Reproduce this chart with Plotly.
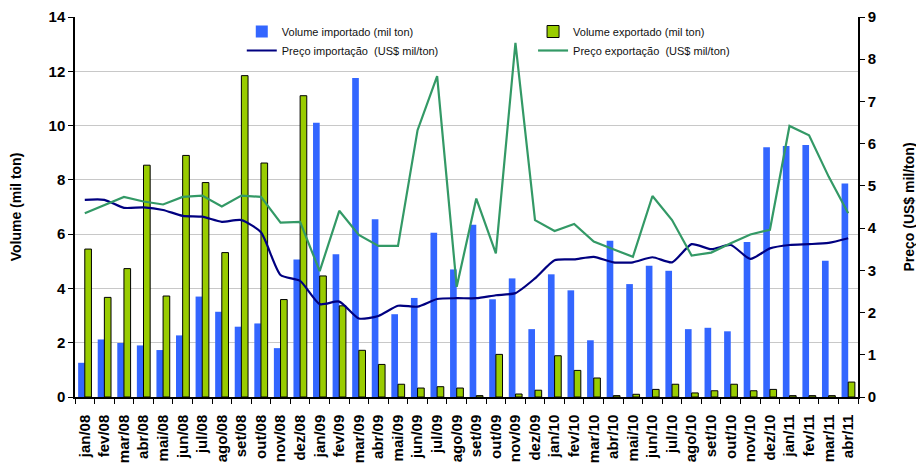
import plotly.graph_objects as go

months = ["jan/08","fev/08","mar/08","abr/08","mai/08","jun/08","jul/08","ago/08","set/08","out/08","nov/08","dez/08",
          "jan/09","fev/09","mar/09","abr/09","mai/09","jun/09","jul/09","ago/09","set/09","out/09","nov/09","dez/09",
          "jan/10","fev/10","mar/10","abr/10","mai/10","jun/10","jul/10","ago/10","set/10","out/10","nov/10","dez/10",
          "jan/11","fev/11","mar/11","abr/11"]

vol_importado = [1.26, 2.12, 1.99, 1.90, 1.73, 2.27, 3.70, 3.14, 2.59, 2.71, 1.80, 5.07,
                 10.10, 5.26, 11.75, 6.55, 3.05, 3.65, 6.05, 4.70, 6.35, 3.60, 4.37, 2.50,
                 4.52, 3.93, 2.09, 5.76, 4.16, 4.84, 4.65, 2.50, 2.55, 2.42, 5.71, 9.20,
                 9.25, 9.28, 5.02, 7.87]

vol_exportado = [5.45, 3.67, 4.73, 8.54, 3.72, 8.90, 7.90, 5.32, 11.84, 8.62, 3.59, 11.10,
                 4.46, 3.36, 1.72, 1.20, 0.47, 0.33, 0.38, 0.33, 0.05, 1.57, 0.11, 0.25,
                 1.52, 0.98, 0.70, 0.05, 0.10, 0.28, 0.47, 0.15, 0.23, 0.47, 0.23, 0.28,
                 0.05, 0.05, 0.05, 0.55]

preco_importacao = [4.67, 4.67, 4.48, 4.49, 4.43, 4.29, 4.27, 4.15, 4.19, 3.90, 2.89, 2.75,
                    2.20, 2.26, 1.86, 1.92, 2.16, 2.14, 2.32, 2.34, 2.34, 2.41, 2.46, 2.81,
                    3.24, 3.26, 3.32, 3.19, 3.19, 3.31, 3.19, 3.62, 3.50, 3.60, 3.27, 3.52,
                    3.60, 3.62, 3.65, 3.76]

preco_exportacao = [4.35, 4.55, 4.74, 4.63, 4.56, 4.74, 4.77, 4.51, 4.77, 4.74, 4.13, 4.15,
                    2.98, 4.41, 3.84, 3.58, 3.58, 6.32, 7.60, 2.61, 4.70, 3.40, 8.39, 4.19,
                    3.93, 4.10, 3.68, 3.50, 3.32, 4.76, 4.19, 3.35, 3.42, 3.64, 3.85, 3.96,
                    6.42, 6.20, 5.22, 4.35]

FONT = "Liberation Sans, Arial, sans-serif"

fig = go.Figure()
fig.add_trace(go.Bar(x=months, y=vol_importado, name="Volume importado (mil ton)",
                     marker=dict(color="#3366FF", line=dict(width=0)),
                     offsetgroup="a", legend="legend", yaxis="y"))
fig.add_trace(go.Scatter(x=months, y=preco_importacao, name="Preço importação  (US$ mil/ton)",
                         mode="lines", line=dict(color="#000080", width=2.2, shape="spline", smoothing=0.6),
                         legend="legend", yaxis="y2"))
fig.add_trace(go.Bar(x=months, y=vol_exportado, name="Volume exportado (mil ton)",
                     marker=dict(color="#99CC00", line=dict(color="#000000", width=1)),
                     offsetgroup="b", legend="legend2", yaxis="y"))
fig.add_trace(go.Scatter(x=months, y=preco_exportacao, name="Preço exportação  (US$ mil/ton)",
                         mode="lines", line=dict(color="#339966", width=2.2),
                         legend="legend2", yaxis="y2"))

fig.update_layout(
    width=916, height=457,
    margin=dict(l=67, r=66, t=9, b=68, autoexpand=False),
    paper_bgcolor="white", plot_bgcolor="white",
    font=dict(family=FONT, color="#000000"),
    barmode="group", bargap=0.32, bargroupgap=0.0,
    showlegend=True,
    legend=dict(x=0.213, y=1.0, xanchor="left", yanchor="top", orientation="v",
                font=dict(size=11, family=FONT, color="#111111"), bgcolor="rgba(0,0,0,0)",
                tracegroupgap=2, itemwidth=30),
    legend2=dict(x=0.585, y=1.0, xanchor="left", yanchor="top", orientation="v",
                 font=dict(size=11, family=FONT, color="#111111"), bgcolor="rgba(0,0,0,0)",
                 tracegroupgap=2, itemwidth=30),
    xaxis=dict(type="category", tickangle=-90, tickson="boundaries", ticks="outside",
               ticklen=5, tickcolor="#000", showline=True, linecolor="#000", linewidth=1.5,
               ticklabelstandoff=10,
               tickfont=dict(size=15, family=FONT, color="#000", weight="bold"),
               showgrid=False),
    yaxis=dict(range=[0, 14], dtick=2, ticks="outside", ticklen=5, tickcolor="#000",
               showline=True, linecolor="#000", linewidth=1.5,
               showgrid=True, gridcolor="#C8C8C8", gridwidth=1.2, zeroline=False,
               tickfont=dict(size=15, family=FONT, color="#000", weight="bold"),
               title=dict(text="Volume (mil ton)", standoff=25,
                          font=dict(size=14, family=FONT, color="#000", weight="bold"))),
    yaxis2=dict(range=[0, 9], dtick=1, overlaying="y", side="right", ticks="outside",
                ticklen=5, tickcolor="#000", showline=True, linecolor="#000", linewidth=1.5,
                showgrid=False, zeroline=False,
                tickfont=dict(size=15, family=FONT, color="#000", weight="bold"),
                title=dict(text="Preço (US$ mil/ton)", standoff=28,
                           font=dict(size=14, family=FONT, color="#000", weight="bold"))),
)

fig.write_html("out.html")
